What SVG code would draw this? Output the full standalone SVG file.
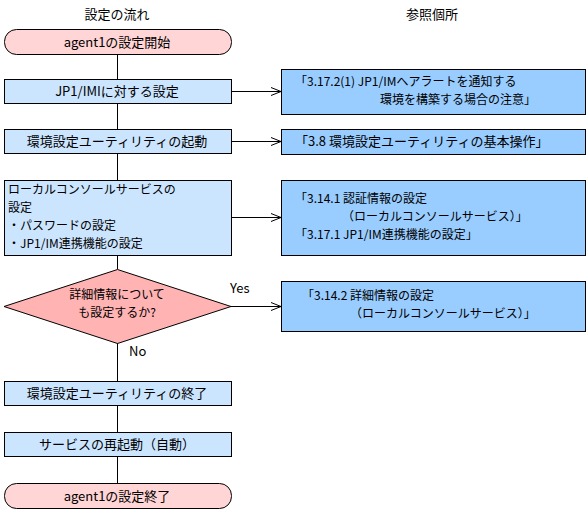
<svg xmlns="http://www.w3.org/2000/svg" width="588" height="511" viewBox="0 0 588 511">
<defs>
<style>
text{font-family:"Noto Sans CJK JP","Noto Sans",sans-serif;font-size:13px;fill:#000}
.m{font-size:12px}
.c{text-anchor:middle}
.term{fill:#ffd5d5;stroke:#000;stroke-width:1}
.step{fill:#cce5ff;stroke:#000;stroke-width:1}
.ref{fill:#99ccff;stroke:#000;stroke-width:1}
.dec{fill:#ffb3b3;stroke:#000;stroke-width:1}
.ln{stroke:#000;stroke-width:1;fill:none}
</style>
<marker id="ah" viewBox="0 0 12 10" refX="11" refY="5" markerWidth="12" markerHeight="10" markerUnits="userSpaceOnUse" orient="auto">
<path d="M1,1 L11,5 L1,9" fill="none" stroke="#000" stroke-width="1"/>
</marker>
</defs>
<rect width="588" height="511" fill="#fff"/>
<text class="c" x="117" y="19">設定の流れ</text>
<text class="c" x="432" y="19">参照個所</text>
<g id="connectors">
<line class="ln" x1="117.5" y1="54" x2="117.5" y2="79"/>
<line class="ln" x1="117.5" y1="103" x2="117.5" y2="129"/>
<line class="ln" x1="117.5" y1="153" x2="117.5" y2="180"/>
<line class="ln" x1="117.5" y1="255" x2="117.5" y2="269"/>
<line class="ln" x1="117.5" y1="343" x2="117.5" y2="381"/>
<line class="ln" x1="117.5" y1="406" x2="117.5" y2="432"/>
<line class="ln" x1="117.5" y1="457" x2="117.5" y2="483"/>
<line class="ln" x1="231" y1="91.5" x2="281" y2="91.5" marker-end="url(#ah)"/>
<line class="ln" x1="231" y1="141.5" x2="281" y2="141.5" marker-end="url(#ah)"/>
<line class="ln" x1="231" y1="217.5" x2="281" y2="217.5" marker-end="url(#ah)"/>
<line class="ln" x1="231" y1="306.5" x2="281" y2="306.5" marker-end="url(#ah)"/>
<text x="230" y="293">Yes</text>
<text x="129" y="356">No</text>
</g>
<g id="start">
<rect class="term" x="4.5" y="29.5" width="227" height="25" rx="12" ry="12"/>
<text class="c" x="117" y="47">agent1の設定開始</text>
</g>
<g id="jp1im">
<rect class="step" x="4.5" y="79.5" width="227" height="24"/>
<text class="c" x="117" y="96">JP1/IMIに対する設定</text>
</g>
<g id="util-start">
<rect class="step" x="4.5" y="129.5" width="227" height="24"/>
<text class="c" x="117" y="146">環境設定ユーティリティの起動</text>
</g>
<g id="local-console">
<rect class="step" x="4.5" y="180.5" width="227" height="75"/>
<text class="m" x="8" y="194">ローカルコンソールサービスの</text>
<text class="m" x="8" y="212">設定</text>
<text class="m" x="8" y="230">・パスワードの設定</text>
<text class="m" x="8" y="248">・JP1/IM連携機能の設定</text>
</g>
<g id="decision">
<polygon class="dec" points="4,306.5 117.5,269.5 231,306.5 117.5,343.5"/>
<text class="m c" x="117" y="299">詳細情報について</text>
<text class="m c" x="117" y="317">も設定するか?</text>
</g>
<g id="util-end">
<rect class="step" x="4.5" y="381.5" width="227" height="24"/>
<text class="c" x="117" y="398">環境設定ユーティリティの終了</text>
</g>
<g id="restart">
<rect class="step" x="4.5" y="432.5" width="227" height="24"/>
<text class="c" x="117" y="449">サービスの再起動（自動）</text>
</g>
<g id="end">
<rect class="term" x="4.5" y="483.5" width="227" height="25" rx="12" ry="12"/>
<text class="c" x="117" y="501">agent1の設定終了</text>
</g>
<g id="ref1">
<rect class="ref" x="281.5" y="69.5" width="304" height="45"/>
<text class="m" x="295" y="86">「3.17.2(1) JP1/IMへアラートを通知する</text>
<text class="m" x="380" y="104">環境を構築する場合の注意」</text>
</g>
<g id="ref2">
<rect class="ref" x="281.5" y="129.5" width="304" height="25"/>
<text x="295" y="146">「3.8 環境設定ユーティリティの基本操作」</text>
</g>
<g id="ref3">
<rect class="ref" x="281.5" y="180.5" width="304" height="75"/>
<text class="m" x="295" y="203">「3.14.1 認証情報の設定</text>
<text class="m" x="342" y="221">（ローカルコンソールサービス）」</text>
<text class="m" x="295" y="239">「3.17.1 JP1/IM連携機能の設定」</text>
</g>
<g id="ref4">
<rect class="ref" x="281.5" y="281.5" width="304" height="50"/>
<text class="m" x="302" y="300">「3.14.2 詳細情報の設定</text>
<text class="m" x="350" y="318">（ローカルコンソールサービス）」</text>
</g>
</svg>
